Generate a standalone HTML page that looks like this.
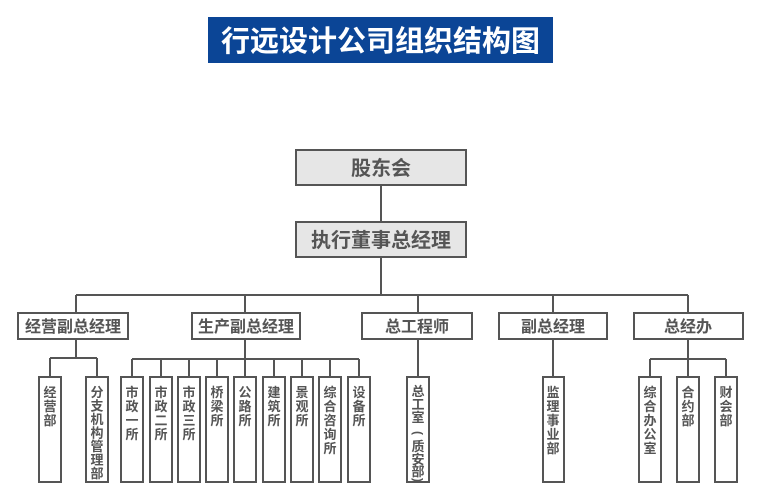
<!DOCTYPE html>
<html><head><meta charset="utf-8"><style>
html,body{margin:0;padding:0;background:#fff;}
svg{display:block;}
text{font-family:"Liberation Sans","Noto Sans CJK SC",sans-serif;font-weight:bold;fill:#555;}
</style></head><body>
<svg width="757" height="494" viewBox="0 0 757 494" xmlns="http://www.w3.org/2000/svg">
<rect x="208" y="17" width="345" height="46" fill="#0b4596"/>
<text x="380.5" y="51" text-anchor="middle" font-size="29" style="fill:#fff">行远设计公司组织结构图</text>

<g stroke="#555" stroke-width="2" fill="none">
<line x1="381" y1="185" x2="381" y2="222"/>
<line x1="381" y1="257" x2="381" y2="295"/>
<line x1="76" y1="295" x2="688" y2="295"/>
<line x1="76" y1="295" x2="76" y2="313"/>
<line x1="245" y1="295" x2="245" y2="313"/>
<line x1="418" y1="295" x2="418" y2="313"/>
<line x1="553" y1="295" x2="553" y2="313"/>
<line x1="688" y1="295" x2="688" y2="313"/>
<line x1="76" y1="339" x2="76" y2="358"/>
<line x1="50" y1="358" x2="97" y2="358"/>
<line x1="50" y1="358" x2="50" y2="377"/>
<line x1="97" y1="358" x2="97" y2="377"/>
<line x1="245" y1="339" x2="245" y2="359"/>
<line x1="132" y1="359" x2="359" y2="359"/>
<line x1="132" y1="359" x2="132" y2="377"/>
<line x1="161" y1="359" x2="161" y2="377"/>
<line x1="189" y1="359" x2="189" y2="377"/>
<line x1="217" y1="359" x2="217" y2="377"/>
<line x1="245" y1="359" x2="245" y2="377"/>
<line x1="274" y1="359" x2="274" y2="377"/>
<line x1="302" y1="359" x2="302" y2="377"/>
<line x1="330" y1="359" x2="330" y2="377"/>
<line x1="359" y1="359" x2="359" y2="377"/>
<line x1="418" y1="339" x2="418" y2="377"/>
<line x1="553" y1="339" x2="553" y2="377"/>
<line x1="688" y1="339" x2="688" y2="377"/>
<line x1="650" y1="359" x2="726" y2="359"/>
<line x1="650" y1="359" x2="650" y2="377"/>
<line x1="726" y1="359" x2="726" y2="377"/>
</g>

<g stroke="#555" stroke-width="2" fill="#e6e6e6">
<rect x="296" y="150" width="170" height="35"/>
<rect x="296" y="222" width="170" height="35"/>
</g>
<text x="381" y="175" text-anchor="middle" font-size="20">股东会</text>
<text x="381" y="247" text-anchor="middle" font-size="20">执行董事总经理</text>

<g stroke="#555" stroke-width="2" fill="#fff">
<rect x="18" y="313" width="110" height="26"/>
<rect x="192" y="313" width="108" height="26"/>
<rect x="362" y="313" width="110" height="26"/>
<rect x="499" y="313" width="108" height="26"/>
<rect x="634" y="313" width="109" height="26"/>
</g>
<g font-size="16" text-anchor="middle">
<text x="73" y="332">经营副总经理</text>
<text x="246" y="332">生产副总经理</text>
<text x="417" y="332">总工程师</text>
<text x="553" y="332">副总经理</text>
<text x="688" y="332">总经办</text>
</g>

<g stroke="#555" stroke-width="2" fill="#fff">
<rect x="39" y="377" width="22" height="105"/>
<rect x="86" y="377" width="22" height="105"/>
<rect x="121" y="377" width="22" height="105"/>
<rect x="150" y="377" width="22" height="105"/>
<rect x="178" y="377" width="22" height="105"/>
<rect x="206" y="377" width="22" height="105"/>
<rect x="234" y="377" width="22" height="105"/>
<rect x="263" y="377" width="22" height="105"/>
<rect x="291" y="377" width="22" height="105"/>
<rect x="319" y="377" width="22" height="105"/>
<rect x="348" y="377" width="22" height="105"/>
<rect x="407" y="377" width="22" height="105"/>
<rect x="543" y="377" width="21" height="105"/>
<rect x="639" y="377" width="22" height="105"/>
<rect x="677" y="377" width="22" height="105"/>
<rect x="715" y="377" width="22" height="105"/>
</g>
<g font-size="13" text-anchor="middle">
<text x="50" y="397"><tspan x="50">经</tspan><tspan x="50" dy="14">营</tspan><tspan x="50" dy="14">部</tspan></text>
<text x="97" y="397"><tspan x="97">分</tspan><tspan x="97" dy="13.5">支</tspan><tspan x="97" dy="13.5">机</tspan><tspan x="97" dy="13.5">构</tspan><tspan x="97" dy="13.5">管</tspan><tspan x="97" dy="13.5">理</tspan><tspan x="97" dy="13.5">部</tspan></text>
<text x="132" y="397"><tspan x="132">市</tspan><tspan x="132" dy="14">政</tspan><tspan x="132" dy="14">一</tspan><tspan x="132" dy="14">所</tspan></text>
<text x="161" y="397"><tspan x="161">市</tspan><tspan x="161" dy="14">政</tspan><tspan x="161" dy="14">二</tspan><tspan x="161" dy="14">所</tspan></text>
<text x="189" y="397"><tspan x="189">市</tspan><tspan x="189" dy="14">政</tspan><tspan x="189" dy="14">三</tspan><tspan x="189" dy="14">所</tspan></text>
<text x="217" y="397"><tspan x="217">桥</tspan><tspan x="217" dy="14">梁</tspan><tspan x="217" dy="14">所</tspan></text>
<text x="245" y="397"><tspan x="245">公</tspan><tspan x="245" dy="14">路</tspan><tspan x="245" dy="14">所</tspan></text>
<text x="274" y="397"><tspan x="274">建</tspan><tspan x="274" dy="14">筑</tspan><tspan x="274" dy="14">所</tspan></text>
<text x="302" y="397"><tspan x="302">景</tspan><tspan x="302" dy="14">观</tspan><tspan x="302" dy="14">所</tspan></text>
<text x="330" y="397"><tspan x="330">综</tspan><tspan x="330" dy="14">合</tspan><tspan x="330" dy="14">咨</tspan><tspan x="330" dy="14">询</tspan><tspan x="330" dy="14">所</tspan></text>
<text x="359" y="397"><tspan x="359">设</tspan><tspan x="359" dy="14">备</tspan><tspan x="359" dy="14">所</tspan></text>
<text x="418" y="396"><tspan x="418">总</tspan><tspan x="418" dy="13">工</tspan><tspan x="418" dy="13">室</tspan></text>
<text x="418" y="437" transform="rotate(90 418 433)" font-size="12">(</text>
<text x="418" y="451"><tspan x="418">质</tspan><tspan x="418" dy="13">安</tspan></text>
<text x="418" y="476">部</text>
<text x="418" y="484" transform="rotate(90 418 480)" font-size="12">)</text>
<text x="553" y="397"><tspan x="553">监</tspan><tspan x="553" dy="14">理</tspan><tspan x="553" dy="14">事</tspan><tspan x="553" dy="14">业</tspan><tspan x="553" dy="14">部</tspan></text>
<text x="650" y="397"><tspan x="650">综</tspan><tspan x="650" dy="14">合</tspan><tspan x="650" dy="14">办</tspan><tspan x="650" dy="14">公</tspan><tspan x="650" dy="14">室</tspan></text>
<text x="688" y="397"><tspan x="688">合</tspan><tspan x="688" dy="14">约</tspan><tspan x="688" dy="14">部</tspan></text>
<text x="726" y="397"><tspan x="726">财</tspan><tspan x="726" dy="14">会</tspan><tspan x="726" dy="14">部</tspan></text>
</g>
</svg>
</body></html>
